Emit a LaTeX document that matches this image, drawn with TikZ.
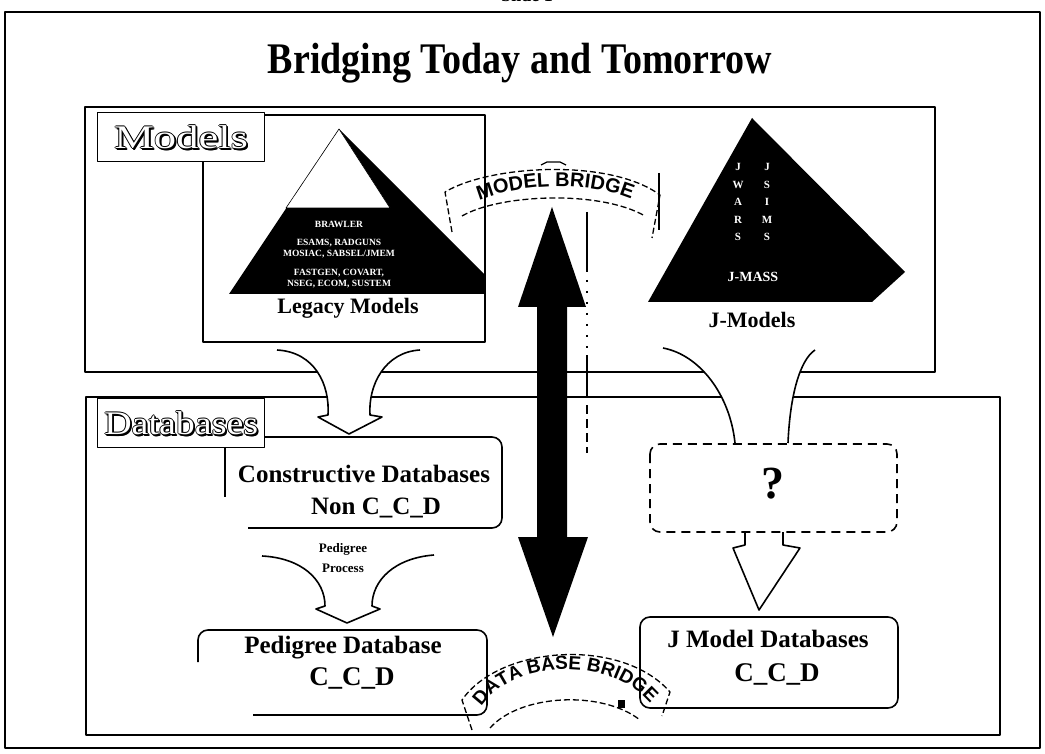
\documentclass[tikz,border=0pt]{standalone}
\usepackage{fontspec}
\setmainfont{Liberation Serif}
\newfontfamily\sansf{Liberation Sans}
\usetikzlibrary{decorations.text,calc}
\begin{document}
\begin{tikzpicture}[x=1pt,y=-1pt,line join=round,
  boxline/.style={draw,line width=1.6pt},
  bold25/.style={font=\bfseries\fontsize{25}{30}\selectfont,align=center},
  pyrtext/.style={text=white,font=\bfseries\fontsize{9.5}{11}\selectfont,align=center,inner sep=0pt},
  jcol/.style={text=white,font=\bfseries\fontsize{11}{17.5}\selectfont,align=center,inner sep=0pt},
  hollowfont/.style={font=\fontsize{33}{33}\selectfont,inner sep=0pt},
  labelbox/.style={draw,fill=white,line width=1.4pt,anchor=north west,minimum width=167pt,minimum height=49pt,inner sep=0pt},
  hollowarrow/.style={draw,fill=white,line width=1.6pt},
  banner/.style={draw,line width=1.3pt,dash pattern=on 6pt off 3pt},
]
\useasboundingbox (0,0) rectangle (1045,754);
% partly cut header
\node[font=\bfseries\fontsize{18}{18}\selectfont,anchor=base] (slide) at (527,2) {Slide 1};
% outer frame
\draw[line width=1.8pt] (5,12) rectangle (1040,748);
% title
\node[font=\bfseries\fontsize{38}{40}\selectfont,yscale=1.15] (title) at (520,63) {Bridging Today and Tomorrow};

% Models area
\draw[boxline] (85,107) rectangle (935,372);
\draw[boxline] (203,115) rectangle (485,342);
% Databases area
\draw[boxline] (86,397) rectangle (1000,735);

% legacy pyramid
\begin{scope}
  \clip (204,116) rectangle (484,341);
  \fill (339,129) -- (504,294) -- (229,294) -- cycle;
\end{scope}
\filldraw[fill=white,line width=0.6pt] (339,129) -- (286,208) -- (390,208) -- cycle;
\node[pyrtext] (brawler) at (339,224) {BRAWLER};
\node[pyrtext] (esams) at (339,249) {ESAMS, RADGUNS\\MOSIAC, SABSEL/JMEM};
\node[pyrtext] (fastgen) at (339,279) {FASTGEN, COVART,\\NSEG, ECOM, SUSTEM};
\node[font=\bfseries\fontsize{22}{24}\selectfont] (legacy) at (348,308) {Legacy Models};

% J pyramid
\fill (752,118) -- (905,272) -- (872,302) -- (648,302) -- cycle;
\node[jcol] (jwars) at (738,202) {J\\W\\A\\R\\S};
\node[jcol] (jsims) at (767,202) {J\\S\\I\\M\\S};
\node[text=white,font=\bfseries\fontsize{14}{16}\selectfont] (jmass) at (753,277) {J-MASS};
\node[font=\bfseries\fontsize{22}{24}\selectfont] (jmodels) at (752,320) {J-Models};

% vertical guide lines
\draw[line width=1.3pt] (659,173) -- (659,230);
\draw[line width=1.3pt] (587,212) -- (587,272);
\draw[line width=1.3pt,dash pattern=on 2pt off 9pt] (587,280) -- (587,352);
\draw[line width=1.3pt] (587,355) -- (587,398);
\draw[line width=1.3pt,dash pattern=on 9pt off 5pt] (587,405) -- (587,453);

% label boxes
\node[labelbox] (modlblbox) at (97,112) {};
\node[labelbox] (dblblbox) at (97,398) {};
\foreach \dx/\dy in {-0.9/0,0.9/0,0/-0.9,0/0.9,1.8/1.8,1.2/1.8,1.8/1.2}{
  \node[hollowfont,text=black,xscale=1.35] at ($(modlblbox.center)+(\dx,\dy)$) {Models};
  \node[hollowfont,text=black,xscale=1.15] at ($(dblblbox.center)+(\dx,\dy)$) {Databases};
}
\node[hollowfont,text=white,xscale=1.35] (modlbl) at (modlblbox.center) {Models};
\node[hollowfont,text=white,xscale=1.15] (dblbl) at (dblblbox.center) {Databases};

% Constructive databases box
\draw[boxline,rounded corners=10pt] (265,437) -- (502,437) -- (502,528) -- (248,528);
\draw[boxline] (225,448) -- (225,497);
\node[bold25] (constr) at (364,474) {Constructive Databases};
\node[bold25] (nonccd) at (376,508) {Non C\_C\_D};

% Pedigree database box
\draw[boxline,rounded corners=10pt] (198,662) -- (198,630) -- (487,630) -- (487,715) -- (253,715);
\node[bold25] (pedig) at (343,648) {Pedigree Database};
\node[font=\bfseries\fontsize{27}{30}\selectfont] (pedccd) at (352,678) {C\_C\_D};

% J model databases box
\draw[boxline,rounded corners=10pt] (640,617) rectangle (898,708);
\node[bold25] (jmdb) at (768,639) {J Model Databases};
\node[font=\bfseries\fontsize{27}{30}\selectfont] (jmccd) at (777,674) {C\_C\_D};

% hollow arrow: legacy -> constructive
\path[hollowarrow] (277,350) .. controls (315,352) and (330,385) .. (328,415) -- (318,417) -- (349,434) -- (382,417) -- (370,415) .. controls (368,385) and (385,352) .. (420,350);
% hollow arrow: pedigree process
\path[hollowarrow] (262,556) .. controls (302,558) and (325,580) .. (325,606) -- (316,609) -- (347,623) -- (380,609) -- (372,606) .. controls (372,580) and (395,558) .. (434,555);
\node[font=\bfseries\fontsize{13}{20}\selectfont,align=center] (pedproc) at (343,558) {Pedigree\\Process};

% J-models -> ? curves
\fill[white] (663,348) .. controls (700,355) and (730,395) .. (735,443) -- (788,443) .. controls (790,395) and (800,360) .. (815,350) -- cycle;
\draw[line width=1.6pt] (663,348) .. controls (700,355) and (730,395) .. (735,443);
\draw[line width=1.6pt] (815,350) .. controls (800,360) and (790,395) .. (788,443);

% ? -> J model databases
\path[hollowarrow] (745,532) -- (745,545) -- (733,548) -- (759,610) -- (800,548) -- (783,545) -- (783,532);
% dashed ? box
\draw[line width=1.6pt,dash pattern=on 9pt off 6pt,rounded corners=10pt] (650,444) rectangle (897,532);
\node[font=\bfseries\fontsize{46}{48}\selectfont] (qmark) at (773,484) {?};

% big double arrow
\fill (552,207) -- (586,307) -- (567,307) -- (567,537) -- (588,537) -- (553,637) -- (518,537) -- (537,537) -- (537,307) -- (518,307) -- cycle;

% MODEL BRIDGE banner
\draw[banner] (452,232) -- (445,192) .. controls (490,165) and (610,158) .. (660,195) -- (652,238);
\draw[banner] (462,216) .. controls (500,194) and (600,190) .. (645,216);
\draw[line width=1.3pt] (541,165) -- (547,162) -- (560,162) -- (566,165);
\path[decorate,decoration={text along path,text align=center,
  text={|\sansf\bfseries\fontsize{20}{20}\selectfont|MODEL BRIDGE}}]
  (456,212) .. controls (505,180) and (605,176) .. (654,212);

% DATA BASE BRIDGE banner
\draw[banner] (472,730) -- (462,700) .. controls (500,645) and (622,637) .. (670,692) -- (662,716);
\draw[banner] (490,728) .. controls (520,694) and (602,690) .. (640,720);
\path[decorate,decoration={text along path,text align=center,
  text={|\sansf\bfseries\fontsize{19}{19}\selectfont|DATA BASE BRIDGE}}]
  (474,722) .. controls (495,655) and (625,650) .. (660,718);
\fill (618,700) rectangle (625,708);
\end{tikzpicture}
\end{document}
